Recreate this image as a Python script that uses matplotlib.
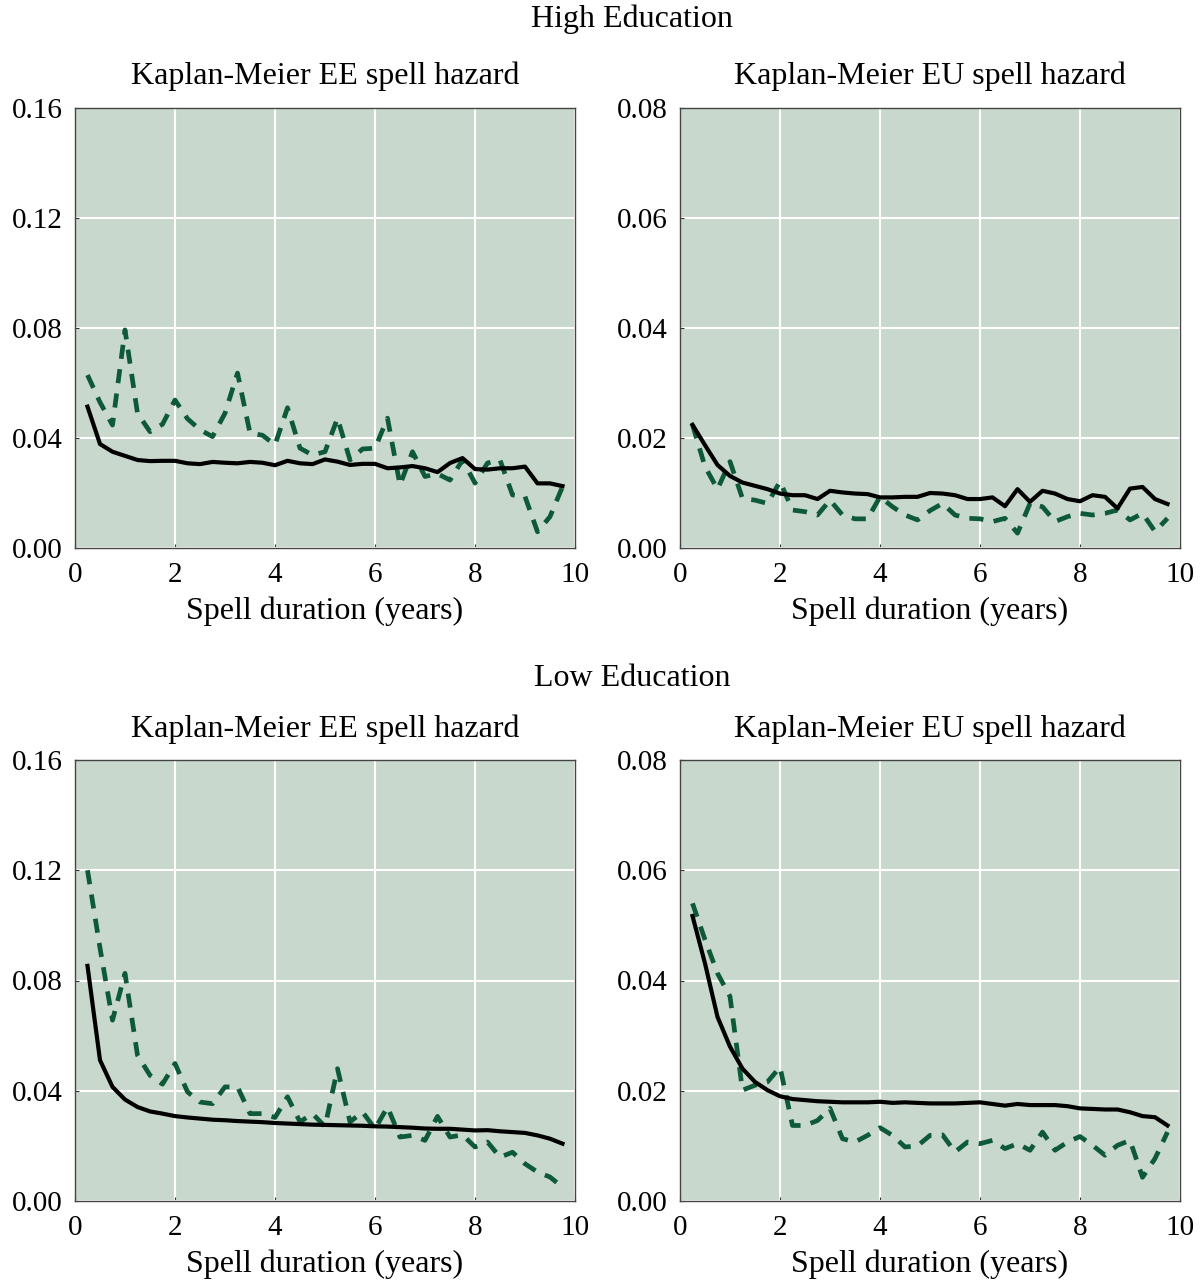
import matplotlib
matplotlib.use("Agg")
import matplotlib.pyplot as plt
import numpy as np

plt.rcParams['font.family'] = ['Liberation Serif', 'DejaVu Serif']

# quarterly spell duration grid (years)
t = [0.25, 0.5, 0.75, 1.0, 1.25, 1.5, 1.75, 2.0, 2.25, 2.5, 2.75, 3.0, 3.25,
     3.5, 3.75, 4.0, 4.25, 4.5, 4.75, 5.0, 5.25, 5.5, 5.75, 6.0, 6.25, 6.5,
     6.75, 7.0, 7.25, 7.5, 7.75, 8.0, 8.25, 8.5, 8.75, 9.0, 9.25, 9.5, 9.75]

# High education, EE hazard
high_ee_model = [0.0514, 0.0378, 0.035, 0.0335, 0.032, 0.0316, 0.0317, 0.0317, 0.0308, 0.0305,
                 0.0313, 0.031, 0.0308, 0.0313, 0.031, 0.0301, 0.0317, 0.0308, 0.0305, 0.0322,
                 0.0314, 0.0302, 0.0306, 0.0306, 0.029, 0.0293, 0.0298, 0.029, 0.0276, 0.0309,
                 0.0327, 0.0287, 0.0285, 0.029, 0.029, 0.0296, 0.0235, 0.0235, 0.0225]
high_ee_data = [0.0629, 0.053, 0.0447, 0.0793, 0.049, 0.0423, 0.045, 0.0538, 0.047, 0.043,
                0.0405, 0.049, 0.0636, 0.0418, 0.041, 0.0375, 0.051, 0.0363, 0.0338, 0.035,
                0.0472, 0.032, 0.036, 0.0363, 0.0472, 0.0229, 0.035, 0.026, 0.027, 0.0247,
                0.032, 0.0236, 0.0309, 0.032, 0.0193, 0.0187, 0.0059, 0.0114, 0.0223]

# High education, EU hazard
high_eu_model = [0.0224, 0.0187, 0.0151, 0.0131, 0.0119, 0.0113, 0.0107, 0.0099, 0.0096, 0.0096,
                 0.0089, 0.0104, 0.0101, 0.0099, 0.0098, 0.0092, 0.0092, 0.0093, 0.0093, 0.01,
                 0.0099, 0.0096, 0.0089, 0.0089, 0.0092, 0.0076, 0.0107, 0.0084, 0.0104, 0.0099,
                 0.0089, 0.0085, 0.0096, 0.0093, 0.0072, 0.0108, 0.0111, 0.0089, 0.008]
high_eu_data = [0.0224, 0.0148, 0.0107, 0.0157, 0.009, 0.0087, 0.0081, 0.0121, 0.0069, 0.0066,
                0.006, 0.0087, 0.006, 0.0053, 0.0053, 0.0093, 0.0075, 0.006, 0.0051, 0.0068,
                0.0081, 0.006, 0.0054, 0.0053, 0.0048, 0.0054, 0.0027, 0.0081, 0.0075, 0.0048,
                0.0057, 0.0063, 0.006, 0.0063, 0.0069, 0.0051, 0.0063, 0.003, 0.0054]

# Low education, EE hazard
low_ee_model = [0.0853, 0.0511, 0.0414, 0.0368, 0.0341, 0.0325, 0.0317, 0.0308, 0.0303, 0.0299,
                0.0295, 0.0293, 0.029, 0.0288, 0.0286, 0.0283, 0.0281, 0.0279, 0.0277, 0.0276,
                0.0275, 0.0274, 0.0273, 0.0271, 0.027, 0.0268, 0.0266, 0.0263, 0.0262, 0.0262,
                0.0259, 0.0256, 0.0257, 0.0253, 0.025, 0.0247, 0.0238, 0.0226, 0.0208]
low_ee_data = [0.12, 0.0918, 0.0656, 0.0826, 0.0529, 0.0456, 0.0424, 0.0499, 0.0396, 0.0359,
               0.0353, 0.0414, 0.0414, 0.0317, 0.0317, 0.0303, 0.0378, 0.0287, 0.0317, 0.027,
               0.048, 0.0287, 0.0323, 0.0262, 0.0341, 0.0232, 0.0238, 0.022, 0.0307, 0.0232,
               0.024, 0.0196, 0.0214, 0.0159, 0.0177, 0.0135, 0.0105, 0.0087, 0.005]

# Low education, EU hazard
low_eu_model = [0.0517, 0.0431, 0.0334, 0.028, 0.024, 0.0216, 0.0201, 0.019, 0.0185, 0.0183,
                0.0181, 0.018, 0.0179, 0.0179, 0.0179, 0.018, 0.0178, 0.0179, 0.0178, 0.0177,
                0.0177, 0.0177, 0.0178, 0.0179, 0.0176, 0.0173, 0.0176, 0.0174, 0.0174, 0.0174,
                0.0172, 0.0168, 0.0167, 0.0166, 0.0166, 0.0161, 0.0154, 0.0152, 0.0137]
low_eu_data = [0.054, 0.0474, 0.0413, 0.0371, 0.0201, 0.021, 0.0216, 0.0243, 0.0137, 0.0137,
               0.0146, 0.0168, 0.0113, 0.0107, 0.0119, 0.0133, 0.0119, 0.0098, 0.01, 0.0119,
               0.012, 0.0089, 0.0107, 0.0104, 0.011, 0.0095, 0.0104, 0.0092, 0.0125, 0.0092,
               0.0107, 0.0117, 0.0101, 0.0083, 0.0101, 0.011, 0.0043, 0.0077, 0.0125]

ee_yticks = [0.00, 0.04, 0.08, 0.12, 0.16]
eu_yticks = [0.00, 0.02, 0.04, 0.06, 0.08]
xticks = [0, 2, 4, 6, 8, 10]

BG = '#C9D8CD'
GREEN = '#0E5A38'
FS_TICK = 21
FS_TEXT = 23

W, H = 1202, 1285
fig = plt.figure(figsize=(W / 100, H / 100), dpi=100)

def px_axes(l, r, top, bot):
    return fig.add_axes([l / W, 1 - bot / H, (r - l) / W, (bot - top) / H])

panels = [
    (px_axes(75, 575, 108, 548), high_ee_model, high_ee_data, ee_yticks, 'Kaplan-Meier EE spell hazard', 76, 611),
    (px_axes(680, 1180, 108, 548), high_eu_model, high_eu_data, eu_yticks, 'Kaplan-Meier EU spell hazard', 76, 611),
    (px_axes(75, 575, 760, 1201), low_ee_model, low_ee_data, ee_yticks, 'Kaplan-Meier EE spell hazard', 729, 1264),
    (px_axes(680, 1180, 760, 1201), low_eu_model, low_eu_data, eu_yticks, 'Kaplan-Meier EU spell hazard', 729, 1264),
]

for ax, model, data, yt, title, ty, ly in panels:
    ax.set_facecolor(BG)
    ax.plot(t, data, color=GREEN, lw=3.4, linestyle=(0, (3.0, 2.2)), zorder=3)
    ax.plot(t, model, color='black', lw=3.0, zorder=4)
    ax.set_xlim(0, 10)
    ax.set_ylim(yt[0], yt[-1])
    ax.set_xticks(xticks)
    ax.set_yticks(yt)
    ax.set_yticklabels([f'{v:.2f}' for v in yt])
    ax.grid(True, color='white', lw=1.5)
    ax.set_axisbelow(True)
    ax.tick_params(direction='in', length=3, width=0.8, colors='#333333',
                   labelsize=FS_TICK, labelcolor='black')
    ax.tick_params(axis='y', pad=9)
    ax.tick_params(axis='x', pad=10)
    for s in ax.spines.values():
        s.set_color('#444444')
        s.set_linewidth(1.0)
    pos = ax.get_position()
    cx = (pos.x0 + pos.x1) / 2
    fig.text(cx, 1 - ty / H, title, ha='center', va='center', fontsize=FS_TEXT)
    fig.text(cx, 1 - ly / H, 'Spell duration (years)', ha='center', va='center', fontsize=FS_TEXT)

fig.text(632 / W, 1 - 19 / H, 'High Education', ha='center', va='center', fontsize=FS_TEXT)
fig.text(632 / W, 1 - 679 / H, 'Low Education', ha='center', va='center', fontsize=FS_TEXT)

fig.savefig('out.png', dpi=100, facecolor='white')
